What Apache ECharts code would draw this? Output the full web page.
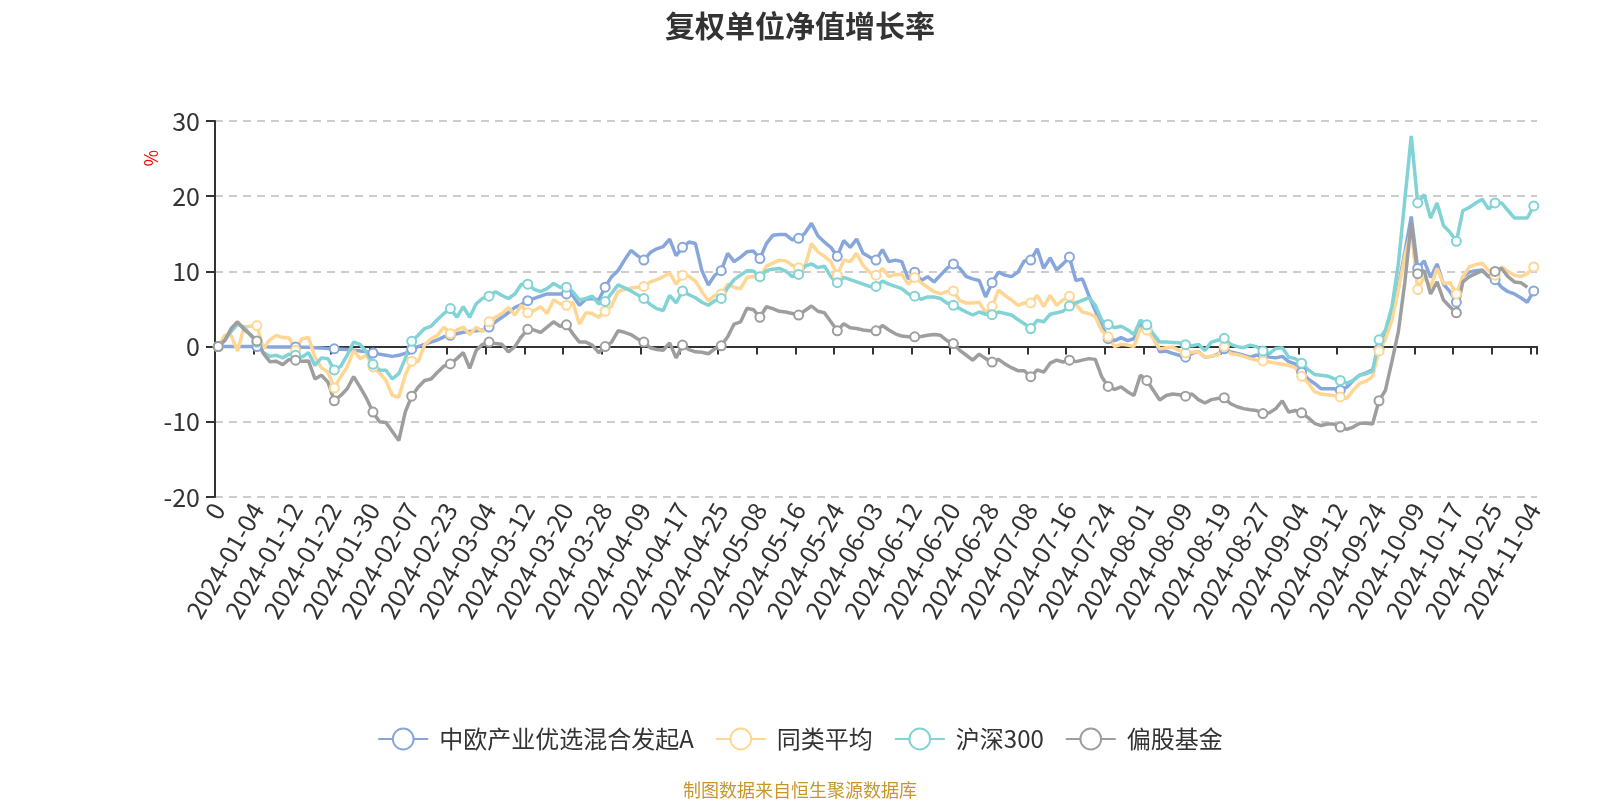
<!DOCTYPE html>
<html>
<head>
<meta charset="utf-8">
<script src="https://cdn.jsdelivr.net/npm/echarts@6/dist/echarts.min.js"></script>
<style>
html,body{margin:0;padding:0;background:#fff;}
#chart{width:1600px;height:800px;}
</style>
</head>
<body>
<div id="chart"></div>
<script>
var categories = ["0","2023-12-27","2023-12-28","2023-12-29",
"2024-01-02","2024-01-03","2024-01-04","2024-01-05","2024-01-08","2024-01-09","2024-01-10","2024-01-11","2024-01-12","2024-01-15","2024-01-16","2024-01-17","2024-01-18","2024-01-19","2024-01-22","2024-01-23","2024-01-24","2024-01-25","2024-01-26","2024-01-29","2024-01-30","2024-01-31",
"2024-02-01","2024-02-02","2024-02-05","2024-02-06","2024-02-07","2024-02-08","2024-02-19","2024-02-20","2024-02-21","2024-02-22","2024-02-23","2024-02-26","2024-02-27","2024-02-28","2024-02-29",
"2024-03-01","2024-03-04","2024-03-05","2024-03-06","2024-03-07","2024-03-08","2024-03-11","2024-03-12","2024-03-13","2024-03-14","2024-03-15","2024-03-18","2024-03-19","2024-03-20","2024-03-21","2024-03-22","2024-03-25","2024-03-26","2024-03-27","2024-03-28","2024-03-29",
"2024-04-01","2024-04-02","2024-04-03","2024-04-08","2024-04-09","2024-04-10","2024-04-11","2024-04-12","2024-04-15","2024-04-16","2024-04-17","2024-04-18","2024-04-19","2024-04-22","2024-04-23","2024-04-24","2024-04-25","2024-04-26","2024-04-29","2024-04-30",
"2024-05-06","2024-05-07","2024-05-08","2024-05-09","2024-05-10","2024-05-13","2024-05-14","2024-05-15","2024-05-16","2024-05-17","2024-05-20","2024-05-21","2024-05-22","2024-05-23","2024-05-24","2024-05-27","2024-05-28","2024-05-29","2024-05-30","2024-05-31",
"2024-06-03","2024-06-04","2024-06-05","2024-06-06","2024-06-07","2024-06-11","2024-06-12","2024-06-13","2024-06-14","2024-06-17","2024-06-18","2024-06-19","2024-06-20","2024-06-21","2024-06-24","2024-06-25","2024-06-26","2024-06-27","2024-06-28",
"2024-07-01","2024-07-02","2024-07-03","2024-07-04","2024-07-05","2024-07-08","2024-07-09","2024-07-10","2024-07-11","2024-07-12","2024-07-15","2024-07-16","2024-07-17","2024-07-18","2024-07-19","2024-07-22","2024-07-23","2024-07-24","2024-07-25","2024-07-26","2024-07-29","2024-07-30","2024-07-31",
"2024-08-01","2024-08-02","2024-08-05","2024-08-06","2024-08-07","2024-08-08","2024-08-09","2024-08-12","2024-08-13","2024-08-14","2024-08-15","2024-08-16","2024-08-19","2024-08-20","2024-08-21","2024-08-22","2024-08-23","2024-08-26","2024-08-27","2024-08-28","2024-08-29","2024-08-30",
"2024-09-02","2024-09-03","2024-09-04","2024-09-05","2024-09-06","2024-09-09","2024-09-10","2024-09-11","2024-09-12","2024-09-13","2024-09-18","2024-09-19","2024-09-20","2024-09-23","2024-09-24","2024-09-25","2024-09-26","2024-09-27","2024-09-30",
"2024-10-08","2024-10-09","2024-10-10","2024-10-11","2024-10-14","2024-10-15","2024-10-16","2024-10-17","2024-10-18","2024-10-21","2024-10-22","2024-10-23","2024-10-24","2024-10-25","2024-10-28","2024-10-29","2024-10-30","2024-10-31",
"2024-11-01","2024-11-04"];

var seriesNames = ["中欧产业优选混合发起A","同类平均","沪深300","偏股基金"];

var fundA = [0,0,0,0,0,0,0,0,-0.05,-0.05,
-0.05,-0.05,-0.05,-0.1,-0.1,-0.15,-0.2,-0.25,-0.3,-0.35,
-0.4,-0.5,-0.6,-0.7,-0.85,-1.0,-1.15,-1.3,-1.15,-0.9,
-0.35,0,0.3,0.6,0.9,1.3,1.5,1.7,1.9,2.0,
2.1,2.2,2.6,3.3,3.9,4.5,5.2,5.6,6.1,6.4,
6.7,7.0,7.0,7.0,7.0,6.8,5.5,6.3,6.4,6.2,
7.9,9.3,10.1,11.5,12.8,12.1,11.5,12.5,13.0,13.3,
14.3,12.1,13.2,13.9,13.7,10.1,8.2,9.5,10.1,12.4,
11.3,11.9,12.6,12.7,11.7,13.7,14.8,14.9,14.9,14.2,
14.4,15.1,16.4,14.7,13.9,13.2,12.0,14.1,13.2,14.3,
12.4,11.9,11.5,12.9,11.3,11.5,11.3,9.0,9.9,8.8,
9.3,8.6,9.5,10.4,11.0,10.4,9.3,9.0,8.8,6.6,
8.5,9.9,9.5,9.3,9.9,11.4,11.5,13.0,10.4,11.8,
10.2,11.0,11.9,8.8,9.0,6.8,4.8,2.8,1.05,0.8,
1.2,0.8,1.05,3.0,2.5,1.3,-0.7,-0.6,-0.9,-1.15,
-1.4,-0.9,-0.7,-1.4,-1.3,-1.0,-0.3,-0.7,-0.9,-1.15,
-1.4,-1.15,-1.15,-1.4,-1.5,-1.3,-2.0,-2.3,-3.4,-4.3,
-4.9,-5.6,-5.6,-5.6,-5.8,-5.4,-4.5,-3.8,-3.5,-3.1,
-0.3,1.5,4.5,8.0,12.5,17.3,10.4,11.4,9.2,11.0,
8.3,7.3,5.9,9.3,9.9,10.1,10.2,9.3,8.9,7.9,
7.3,7.0,6.5,5.9,7.4];

var peerAvg = [0,1.5,1.5,-0.6,2.6,2.7,2.8,-0.3,0.9,1.5,
1.2,1.15,-0.5,1.05,1.2,-1.4,-2.8,-3.4,-5.5,-4.0,
-2.7,-0.5,-1.6,-1.15,-2.7,-3.5,-4.5,-6.5,-6.7,-3.8,
-1.95,-2.0,0.2,1.05,1.5,2.6,1.7,2.2,2.6,1.6,
2.6,1.95,3.3,3.9,4.4,5.2,4.2,5.5,4.5,4.8,
5.3,4.4,6.2,5.7,5.5,5.9,3.0,4.5,4.4,3.9,
4.7,5.4,7.3,7.6,7.8,7.9,8.0,8.6,8.9,9.3,
9.8,8.3,9.5,9.35,8.7,7.3,6.1,6.8,7.0,8.3,
7.9,7.7,9.2,9.35,9.3,10.7,11.1,11.5,11.4,10.8,
10.5,10.7,13.7,12.6,12.0,11.3,9.5,11.5,11.3,12.4,
10.8,9.9,9.5,10.4,9.3,9.6,9.6,8.3,9.2,8.5,
7.9,7.3,7.0,7.3,7.4,6.1,5.8,5.8,5.9,4.5,
5.35,7.5,6.8,6.2,5.5,5.8,5.8,6.8,5.3,6.8,
5.5,6.2,6.7,5.6,4.6,4.4,4.0,2.1,1.3,0,
0.3,0.2,0,2.4,2.2,1.05,-0.3,-0.15,-0.05,-0.5,
-0.85,-0.75,-0.7,-1.4,-1.25,-1.15,0,-0.95,-1.05,-1.3,
-1.6,-1.8,-1.9,-2.05,-2.2,-2.35,-2.5,-2.8,-3.95,-4.8,
-6.0,-6.3,-6.4,-6.5,-6.7,-6.9,-5.8,-4.9,-4.6,-4.0,
-0.6,1.0,3.5,7.5,12.0,15.5,7.6,9.3,7.9,10.4,
8.4,8.5,7.0,9.3,10.6,10.9,11.1,10.1,9.5,10.6,
10.0,9.5,9.3,9.7,10.6];

var hs300 = [0,0.8,2.0,3.0,2.6,1.5,0.6,-0.8,-1.3,-1.15,
-1.5,-1.0,-1.15,-1.4,-0.8,-2.5,-1.5,-1.6,-3.1,-2.6,
-1.15,0.6,0.3,-0.7,-2.35,-3.1,-3.15,-4.3,-3.6,-1.6,
0.7,1.5,2.4,2.7,3.6,4.4,5.05,3.9,5.3,3.9,
5.7,6.4,6.7,7.3,6.8,6.4,7.0,8.3,8.3,7.6,
7.3,7.7,8.4,7.9,7.9,7.3,6.2,6.4,6.7,5.7,
6.0,7.1,8.2,7.8,7.4,6.9,6.4,5.6,5.05,4.8,
6.8,5.8,7.4,6.9,6.5,5.9,5.5,6.1,6.4,7.8,
8.9,9.5,10.1,10.05,9.3,10.1,10.3,10.4,10.05,9.3,
9.6,10.7,11.0,10.5,10.7,9.3,8.5,9.2,8.9,8.6,
8.3,8.0,8.0,8.7,8.3,8.0,7.7,7.0,6.7,6.3,
6.6,6.6,6.4,5.8,5.5,5.05,4.6,4.2,4.6,4.3,
4.25,4.6,4.4,4.2,3.6,3.05,2.4,3.5,3.3,4.3,
4.5,4.7,5.4,5.8,6.15,6.5,5.5,3.5,2.95,2.5,
2.7,2.25,1.6,3.5,2.9,1.7,0.6,0.6,0.55,0.5,
0.25,0.1,0.3,-0.5,0.6,0.85,1.1,0.3,0,-0.15,
0.2,0,-0.6,-0.95,-0.25,-0.15,-1.4,-1.6,-2.2,-3.05,
-3.7,-3.8,-3.9,-4.25,-4.5,-4.9,-4.5,-3.8,-3.6,-3.25,
0.9,2.2,5.3,11.0,19.5,28.0,19.1,20.2,17.1,19.1,
16.1,15.2,14.0,18.1,18.5,19.1,19.6,18.3,19.1,19.1,
18.1,17.1,17.1,17.1,18.7];

var equityFunds = [0,0.8,2.4,3.3,2.3,1.6,0.75,-0.9,-2.0,-1.95,
-2.4,-1.7,-1.8,-1.95,-1.9,-4.3,-3.8,-4.7,-7.2,-6.5,
-5.6,-4.0,-5.4,-6.9,-8.7,-10.0,-10.1,-11.3,-12.5,-8.7,
-6.6,-5.4,-4.5,-4.3,-3.4,-2.6,-2.3,-1.6,-0.8,-2.9,
-0.5,0.3,0.6,0.4,0.3,-0.7,0,1.3,2.3,2.2,
1.9,2.6,3.3,2.7,2.9,1.7,0.6,0.6,0.2,-0.8,
0,0.6,2.1,1.9,1.6,1.05,0.6,-0.15,-0.4,-0.5,
0.5,-1.5,0.2,-0.4,-0.7,-0.75,-0.95,-0.3,0.1,1.3,
3.0,3.3,5.1,4.9,3.9,5.3,5.05,4.7,4.6,4.4,
4.2,4.8,5.4,4.7,4.5,3.3,2.1,3.05,2.5,2.4,
2.2,2.1,2.1,2.8,2.2,1.7,1.4,1.3,1.3,1.35,
1.5,1.6,1.5,0.8,0.4,-0.5,-1.15,-1.8,-1.0,-1.6,
-2.05,-1.7,-2.3,-2.8,-3.2,-3.2,-4.0,-3.1,-3.4,-2.2,
-1.8,-2.05,-1.8,-2.0,-1.8,-1.6,-1.7,-4.0,-5.3,-5.7,
-5.35,-6.0,-6.5,-3.8,-4.5,-5.8,-7.1,-6.5,-6.3,-6.4,
-6.6,-6.3,-7.05,-7.5,-7.05,-6.9,-6.8,-7.6,-8.0,-8.25,
-8.4,-8.5,-8.9,-8.8,-8.25,-7.2,-8.7,-8.5,-8.8,-9.45,
-10.2,-10.5,-10.3,-10.3,-10.7,-11.0,-10.7,-10.2,-10.2,-10.3,
-7.2,-5.8,-2.0,2.0,8.5,16.5,9.7,10.1,7.0,8.6,
6.2,5.3,4.5,8.6,9.3,9.7,10.1,9.3,10.0,10.4,
9.3,8.6,8.5,7.9];

var yTicks = {min: -20, max: 30, interval: 10};
var colors = ["#87a7dc", "#ffd694", "#82d3d6", "#9e9e9e"];

var FONT = "'Noto Sans CJK SC', 'Noto Sans', sans-serif";
var chart = echarts.init(document.getElementById('chart'), null, {renderer: 'canvas'});

function mkSeries(name, data, color) {
  return {
    name: name, type: 'line', data: data,
    xAxisIndex: 0, yAxisIndex: 0,
    symbol: 'emptyCircle', symbolSize: 9, showSymbol: true,
    lineStyle: {width: 3.5, color: color},
    itemStyle: {color: color, borderWidth: 2},
    emphasis: {disabled: true}
  };
}

var option = {
  animation: false,
  color: colors,
  textStyle: {fontFamily: FONT},
  title: [{
    text: '复权单位净值增长率', left: 'center', top: 6,
    textStyle: {fontSize: 30, fontWeight: 'bold', color: '#333', fontFamily: FONT}
  }, {
    text: '制图数据来自恒生聚源数据库', left: 'center', top: 776,
    textStyle: {fontSize: 18, fontWeight: 'normal', color: '#c8962a', fontFamily: FONT}
  }],
  legend: {
    data: seriesNames, left: 'center', top: 722,
    itemWidth: 50, itemHeight: 26, itemGap: 21,
    textStyle: {fontSize: 24, color: '#333', fontFamily: FONT, padding: [0, 0, 0, 6]}
  },
  grid: {left: 215, right: 63, top: 121, bottom: 303, containLabel: false},
  graphic: [{
    type: 'text', left: 142, top: 150, rotation: Math.PI / 2,
    style: {text: '%', fill: '#ff0000', fontSize: 18, fontFamily: FONT}
  }],
  xAxis: [{
    type: 'category', data: categories, boundaryGap: true, position: 'bottom',
    axisLine: {show: false, onZero: false},
    axisTick: {show: false},
    axisLabel: {interval: 5, rotate: 60, fontSize: 25, color: '#333', margin: 8, fontFamily: FONT},
    splitLine: {show: false}
  }, {
    type: 'category', data: categories, boundaryGap: true, position: 'bottom',
    axisLine: {show: true, onZero: true, lineStyle: {color: '#333', width: 2}},
    axisTick: {show: true, interval: 5, length: 8, lineStyle: {color: '#333', width: 2}},
    axisLabel: {show: false, interval: 5},
    splitLine: {show: false}
  }],
  yAxis: {
    type: 'value', min: yTicks.min, max: yTicks.max, interval: yTicks.interval,
    axisLine: {show: true, lineStyle: {color: '#333', width: 2}},
    axisTick: {show: true, length: 9, lineStyle: {color: '#333', width: 2}},
    axisLabel: {fontSize: 25, color: '#333', margin: 15, fontFamily: FONT},
    splitLine: {show: true, lineStyle: {type: [8, 6], color: '#cccccc', width: 2}}
  },
  series: [
    mkSeries(seriesNames[0], fundA, colors[0]),
    mkSeries(seriesNames[1], peerAvg, colors[1]),
    mkSeries(seriesNames[2], hs300, colors[2]),
    mkSeries(seriesNames[3], equityFunds, colors[3])
  ]
};
chart.setOption(option);
</script>
</body>
</html>
